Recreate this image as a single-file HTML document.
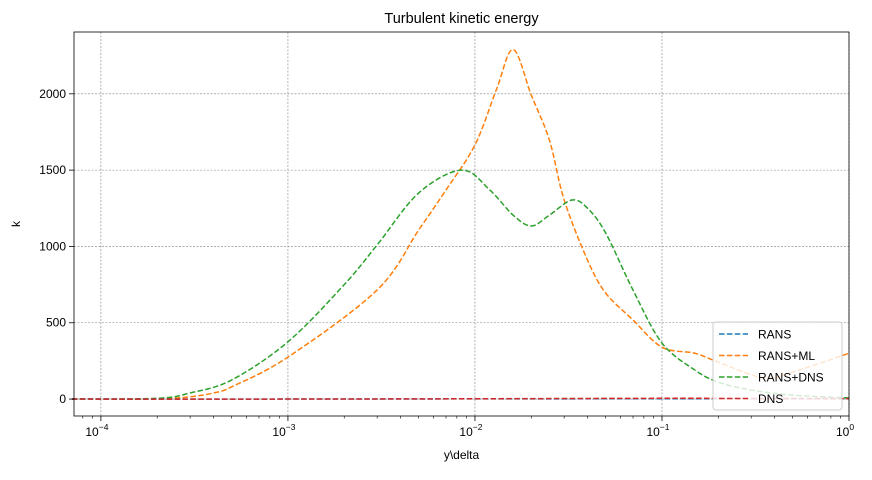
<!DOCTYPE html>
<html><head><meta charset="utf-8"><style>
body{margin:0;background:#fff;font-family:"Liberation Sans",sans-serif;}
svg text{font-family:"Liberation Sans",sans-serif;fill:#000}
</style></head><body>
<svg id="chart" width="872" height="475" xmlns="http://www.w3.org/2000/svg">
<text x="461.5" y="23" font-size="14.5" text-anchor="middle">Turbulent kinetic energy</text>
<g id="grid"></g><g id="series"></g><g id="axes"></g>
<text x="461.5" y="459" font-size="12" text-anchor="middle">y\delta</text>
<text x="20" y="224" font-size="12" text-anchor="middle" transform="rotate(-90 20 224)">k</text>
<g id="legend"></g>
</svg>
<script>
const xTickExps = [-4, -3, -2, -1, 0];
const yTicks = [0, 500, 1000, 1500, 2000];
const seriesNames = ["RANS", "RANS+ML", "RANS+DNS", "DNS"];
const seriesColors = ["#1f77b4", "#ff7f0e", "#2ca02c", "#d62728"];
const ransX = [7e-5, 1e-3, 1e-2, 0.1, 1];
const ransK = [0, 0, 1, 2, 2];
const mlX = [7e-5, 2e-4, 3e-4, 4e-4, 5e-4, 1e-3, 3e-3, 5e-3, 7e-3, 1e-2, 1.3e-2, 1.6e-2, 2e-2, 2.5e-2, 3e-2, 4e-2, 5e-2, 7e-2, 0.1, 0.15, 0.2, 0.35, 0.5, 1];
const mlK = [0, 2, 15, 40, 80, 275, 715, 1107, 1370, 1665, 2025, 2290, 1992, 1697, 1304, 910, 695, 518, 340, 300, 242, 138, 177, 300];
const dnsRansX = [7e-5, 2e-4, 3e-4, 5e-4, 1e-3, 2e-3, 3e-3, 5e-3, 8.5e-3, 1.2e-2, 1.6e-2, 2e-2, 2.5e-2, 3.3e-2, 4e-2, 5e-2, 7e-2, 0.1, 0.15, 0.2, 0.3, 0.5, 1];
const dnsRansK = [0, 5, 40, 125, 375, 750, 1010, 1350, 1500, 1370, 1205, 1134, 1205, 1304, 1250, 1088, 714, 367, 190, 111, 59, 26, 7];
const dnsX = [7e-5, 1e-3, 1e-2, 0.1, 0.3, 1];
const dnsK = [0, 0, 2, 5, 4, 3];

const L=74,R=849,T=32,B=416;
const xmin=Math.log10(7.18e-5), xmax=0, ymin=-111, ymax=2405;
const sx=v=>L+(Math.log10(v)-xmin)/(xmax-xmin)*(R-L);
const sy=v=>B-(v-ymin)/(ymax-ymin)*(B-T);
const NS="http://www.w3.org/2000/svg";
function mk(t,p,parent){const e=document.createElementNS(NS,t);for(const k in p)e.setAttribute(k,p[k]);parent.appendChild(e);return e;}
const grid=document.getElementById('grid'),axes=document.getElementById('axes'),ser=document.getElementById('series'),leg=document.getElementById('legend');
xTickExps.forEach(e=>{const x=sx(Math.pow(10,e));
 const g=mk('line',{x1:x,x2:x,y1:T,y2:B,stroke:'#808080','stroke-width':0.6,'stroke-dasharray':'2,1.5'},grid);
 
 mk('line',{x1:x,x2:x,y1:B,y2:B+5,stroke:'#000','stroke-width':0.8},axes);
 const t=mk('text',{x:x-4,y:B+20,'font-size':12,'text-anchor':'middle'},axes);
 
 t.textContent='10';const s=mk('tspan',{dy:-6,'font-size':8.5},t);s.textContent=e===0?'0':'\u2212'+Math.abs(e);
 for(let m=2;m<10;m++){const v=m*Math.pow(10,e-1);if(Math.log10(v)<xmin)continue;const xm=sx(v);
  mk('line',{x1:xm,x2:xm,y1:B,y2:B+2.5,stroke:'#000','stroke-width':0.6},axes);}
});
yTicks.forEach(v=>{const y=sy(v);
 const g=mk('line',{x1:L,x2:R,y1:y,y2:y,stroke:'#808080','stroke-width':0.6,'stroke-dasharray':'2,1.5'},grid);
 
 mk('line',{x1:L-5,x2:L,y1:y,y2:y,stroke:'#000','stroke-width':0.8},axes);
 const t=mk('text',{x:L-8,y:y+4,'font-size':12,'text-anchor':'end'},axes);
 t.textContent=v;
});
const frame=mk('rect',{x:L,y:T,width:R-L,height:B-T,fill:'none',stroke:'#000','stroke-width':0.8},axes);

function smooth(X,Y){const p=X.map((x,i)=>[sx(x),sy(Y[i])]);let d='M'+p[0][0]+','+p[0][1];
 for(let i=0;i<p.length-1;i++){const p0=p[Math.max(0,i-1)],p1=p[i],p2=p[i+1],p3=p[Math.min(p.length-1,i+2)];
  const c1=[p1[0]+(p2[0]-p0[0])/6,p1[1]+(p2[1]-p0[1])/6],c2=[p2[0]-(p3[0]-p1[0])/6,p2[1]-(p3[1]-p1[1])/6];
  d+=' C'+c1+' '+c2+' '+p2;}return d;}
const data=[[ransX,ransK],[mlX,mlK],[dnsRansX,dnsRansK],[dnsX,dnsK]];
const order=[1,2,0,3];
order.forEach(i=>{const pth=mk('path',{d:smooth(data[i][0],data[i][1]),fill:'none',stroke:seriesColors[i],'stroke-width':1.5,'stroke-dasharray':'5.5,2.4'},ser);
 });
const lb=mk('rect',{x:713,y:322,width:129,height:88,rx:3,fill:'#fff','fill-opacity':0.8,stroke:'#ccc','stroke-width':1},leg);

seriesNames.forEach((n,i)=>{const y=334+i*21.5;
 const l=mk('line',{x1:719,x2:748,y1:y,y2:y,stroke:seriesColors[i],'stroke-width':1.5,'stroke-dasharray':'5.5,2.4'},leg);
 
 const t=mk('text',{x:758,y:y+4.5,'font-size':12},leg);
 t.textContent=n;});
</script>
</body></html>
